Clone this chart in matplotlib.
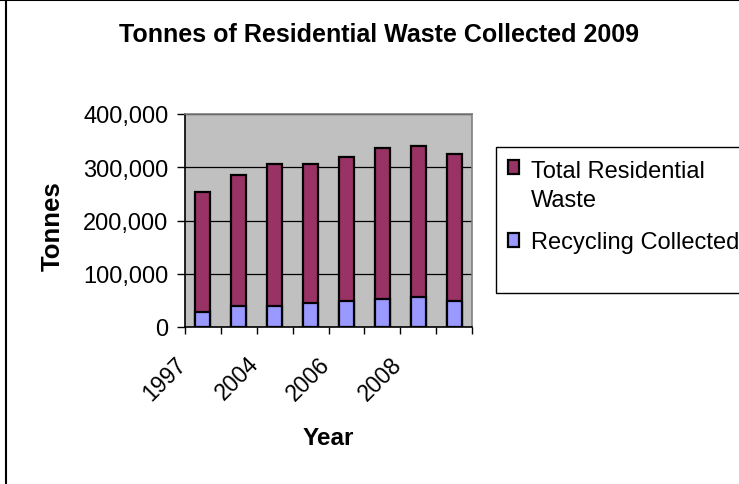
import matplotlib
matplotlib.use("Agg")
import matplotlib.pyplot as plt
from matplotlib.patches import Rectangle
from matplotlib.transforms import ScaledTranslation
from matplotlib.ticker import FuncFormatter
from matplotlib.legend_handler import HandlerPatch

# tonnes collected per year
years = ["1997", "2003", "2004", "2005", "2006", "2007", "2008", "2009"]
total_waste = [253000, 286000, 307000, 307000, 320000, 336000, 340000, 324000]
recycling = [29000, 40000, 40000, 45000, 49000, 53000, 57000, 49000]

W, H = 739, 485
FS = 17
plt.rcParams["font.family"] = ["Liberation Sans", "DejaVu Sans"]

fig = plt.figure(figsize=(W / 100, H / 100), dpi=100)
ax = fig.add_axes([185 / W, 157 / H, 287 / W, 213 / H])
ax.set_facecolor("#C0C0C0")

x = range(len(years))
b_total = ax.bar(x, total_waste, width=0.42, color="#993366", edgecolor="black",
                 linewidth=1.6, zorder=3)
b_rec = ax.bar(x, recycling, width=0.42, color="#9999FF", edgecolor="black",
               linewidth=1.6, zorder=4)

ax.set_xlim(-0.5, len(years) - 0.5)
ax.set_ylim(0, 400000)
ax.set_yticks([0, 100000, 200000, 300000, 400000])
ax.yaxis.set_major_formatter(FuncFormatter(lambda v, p: "{:,.0f}".format(v)))
ax.grid(axis="y", color="black", linewidth=0.9, zorder=1)

# category boundaries carry the tick marks, labels on every other category
ax.set_xticks([i - 0.5 for i in range(len(years) + 1)])
ax.set_xticklabels([])
ax.tick_params(axis="x", direction="out", length=5, width=1, colors="black")
ax.tick_params(axis="y", direction="out", length=6, width=1, labelsize=FS, pad=6)
off = ScaledTranslation(-20 / 100, -33 / 100, fig.dpi_scale_trans)
for i in range(0, len(years), 2):
    ax.text(i, 0, years[i], rotation=45, ha="right", va="center",
            rotation_mode="anchor", fontsize=16.5,
            transform=ax.transData + off)

for side in ["top", "right"]:
    ax.spines[side].set_color("#808080")
    ax.spines[side].set_linewidth(1.2)
for side in ["left", "bottom"]:
    ax.spines[side].set_color("black")
    ax.spines[side].set_linewidth(1.2)

ax.set_ylabel("Tonnes", fontsize=18.5, fontweight="bold", va="center")
ax.yaxis.set_label_coords(-0.46, 0.48)
ax.set_xlabel("Year", fontsize=17.5, fontweight="bold", va="center")
ax.xaxis.set_label_coords(0.50, -0.52)

fig.text(379 / W, 1 - 35 / H, "Tonnes of Residential Waste Collected 2009",
         ha="center", va="center", fontsize=18, fontweight="bold")


# legend square sits beside the first line of a two-line label
def top_square(legend, orig_handle, xdescent, ydescent, width, height, fontsize):
    return Rectangle((-xdescent, -ydescent + 0.78 * fontsize), width, height)


def plain_square(legend, orig_handle, xdescent, ydescent, width, height, fontsize):
    return Rectangle((-xdescent, -ydescent), width, height)


h_total = b_total.patches[0]
h_rec = b_rec.patches[0]

# legend box runs off the right edge
fig.patches.append(Rectangle((496 / W, 1 - 294 / H), 260 / W, 146 / H,
                             transform=fig.transFigure, facecolor="white",
                             edgecolor="black", linewidth=1.0, zorder=0))
leg = fig.legend([h_total, h_rec], ["Total Residential\nWaste", "Recycling Collected"],
                 handler_map={h_total: HandlerPatch(patch_func=top_square),
                              h_rec: HandlerPatch(patch_func=plain_square)},
                 loc="upper left", bbox_to_anchor=(491 / W, 1 - 144 / H),
                 frameon=False, fontsize=FS, handlelength=0.5, handleheight=0.5,
                 handletextpad=0.5, labelspacing=0.85, borderpad=0.2)
leg.get_texts()[0].set_linespacing(1.45)

# chart border (left and top visible)
fig.add_artist(plt.Line2D([5.5 / W, 5.5 / W], [0, 1], color="black",
                          linewidth=1.5, transform=fig.transFigure))
fig.add_artist(plt.Line2D([0, 1], [1 - 1 / H, 1 - 1 / H], color="black",
                          linewidth=1.5, transform=fig.transFigure))

fig.savefig("out.png", dpi=100)
